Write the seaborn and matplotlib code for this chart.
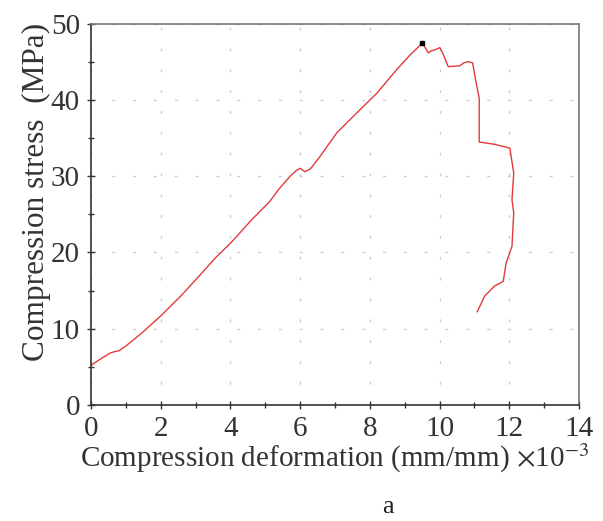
import numpy as np
import matplotlib
matplotlib.use("Agg")
import matplotlib.pyplot as plt
import seaborn as sns
import pandas as pd
from matplotlib.ticker import MultipleLocator

# strain (x10^-3 mm/mm) and stress (MPa)
strain = [0.0, 0.3, 0.55, 0.69, 0.8, 0.98, 1.45, 2.03, 2.6, 3.08, 3.56, 4.04, 4.61,
          5.13, 5.37, 5.71, 5.9, 6.0, 6.14, 6.3, 6.57, 7.05, 7.62, 8.2, 8.77, 9.15,
          9.51, 9.68, 9.77, 9.87, 10.01, 10.1, 10.25, 10.58, 10.7, 10.82, 10.95,
          11.03, 11.14, 11.14, 11.58, 12.02, 12.13, 12.08, 12.13, 12.08, 11.91,
          11.83, 11.58, 11.3, 11.08]
stress = [5.2, 6.1, 6.8, 7.0, 7.1, 7.65, 9.4, 11.8, 14.4, 16.8, 19.25, 21.4, 24.3,
          26.7, 28.2, 30.0, 30.8, 31.05, 30.6, 31.0, 32.6, 35.7, 38.3, 40.9, 44.0, 45.9,
          47.5, 46.2, 46.5, 46.6, 46.9, 46.1, 44.4, 44.5, 44.9, 45.05, 44.9,
          42.8, 40.2, 34.5, 34.2, 33.7, 30.4, 26.9, 25.2, 20.8, 18.6,
          16.2, 15.6, 14.3, 12.2]
peak_x = [9.51]
peak_y = [47.5]

df = pd.DataFrame({"strain": strain, "stress": stress})

sns.set_style("white")
plt.rcParams['font.family'] = ['Liberation Serif', 'DejaVu Serif']
plt.rcParams['mathtext.fontset'] = 'stix'

fig = plt.figure(figsize=(6.03, 5.21), dpi=100)
ax = fig.add_axes([0.151, 0.223, 0.809, 0.731])

sns.lineplot(data=df, x="strain", y="stress", sort=False, estimator=None,
             color="#e23a3a", linewidth=1.0, ax=ax)
ax.plot(peak_x, peak_y, "s", color="black", markersize=2.5)

ax.set_xlim(0, 14)
ax.set_ylim(0, 50)
ax.xaxis.set_major_locator(MultipleLocator(2))
ax.xaxis.set_minor_locator(MultipleLocator(1))
ax.yaxis.set_major_locator(MultipleLocator(10))
ax.yaxis.set_minor_locator(MultipleLocator(5))
ax.tick_params(which="both", direction="inout", length=6, width=1, color="#333333",
               labelsize=21, bottom=True, left=True)
ax.tick_params(axis="x", which="major", pad=5)
ax.tick_params(axis="y", which="major", pad=5)
ax.tick_params(which="minor", length=5)

ax.grid(True, which="major", color="#cccccc", linestyle=(0, (2, 13)), linewidth=1.0)

for side in ["left", "bottom"]:
    ax.spines[side].set_color("#333333")
    ax.spines[side].set_linewidth(1.2)
for side in ["top", "right"]:
    ax.spines[side].set_color("#777777")
    ax.spines[side].set_linewidth(1.2)

ax.set_xlabel(r"Compression deformation (mm/mm) $\times$10$^{-3}$", fontsize=21,
              color="#333333", labelpad=0)
ax.set_ylabel("Compression stress  (MPa)", fontsize=22.5, color="#333333",
              labelpad=0, y=0.56)
for lab in ax.get_xticklabels() + ax.get_yticklabels():
    lab.set_color("#333333")

fig.text(0.643, 0.005, "a", fontsize=19, ha="center", va="bottom", color="#222222")

fig.savefig("out.png", dpi=100)
